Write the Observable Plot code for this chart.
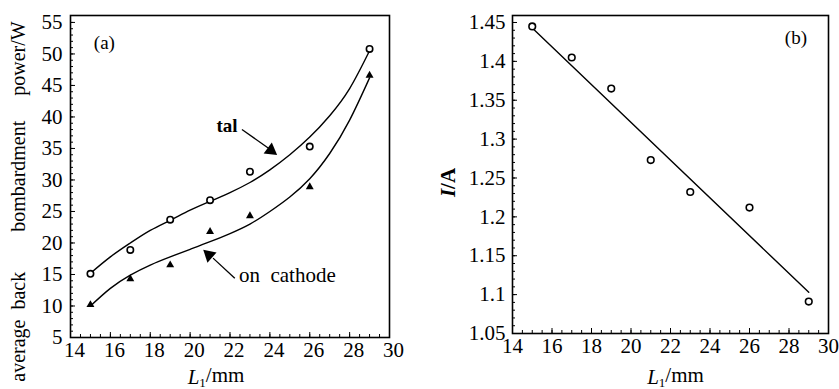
<!DOCTYPE html>
<html><head><meta charset="utf-8">
<script src="https://cdn.jsdelivr.net/npm/d3@7"></script>
<script src="https://cdn.jsdelivr.net/npm/@observablehq/plot@0.6"></script>
<style>
body{margin:0;background:#fff;}
#wrap{display:flex;width:839px;height:389px;background:#fff;}
svg text{white-space:pre;}
</style></head><body><div id="wrap"></div>
<script>
// ---- Panel (a) data ----
const lengthsA = [15, 17, 19, 21, 23, 26, 29];
const powerTotal = [15.1, 18.9, 23.7, 26.8, 31.3, 35.3, 50.8];
const powerCathode = [10.2, 14.3, 16.5, 21.8, 24.3, 28.9, 46.6];
const curveX = [15, 16, 17, 18, 19, 20, 21, 22, 23, 24, 25, 26, 27, 28, 29];
const curveTotal = [15.2, 17.8, 20.0, 22.0, 23.6, 25.2, 26.6, 28.0, 29.6, 31.6, 34.0, 36.8, 40.2, 44.5, 50.5];
const curveCathode = [10.0, 12.8, 14.9, 16.5, 17.8, 19.0, 20.2, 21.5, 23.0, 25.0, 27.3, 30.2, 34.2, 39.5, 46.2];
const ticksAX = [14, 16, 18, 20, 22, 24, 26, 28, 30];
const ticksAY = [5, 10, 15, 20, 25, 30, 35, 40, 45, 50, 55];
const labelsA = ["(a)", "tal", "on  cathode"];
// ---- Panel (b) data ----
const lengthsB = [15, 17, 19, 21, 23, 26, 29];
const currentB = [1.445, 1.405, 1.365, 1.273, 1.232, 1.212, 1.091];
const fitX = [15, 29];
const fitI = [1.443, 1.103];
const ticksBX = [14, 16, 18, 20, 22, 24, 26, 28, 30];
const ticksBY = [1.05, 1.1, 1.15, 1.2, 1.25, 1.3, 1.35, 1.4, 1.45];

const FONT = "'Liberation Serif', 'Times New Roman', serif";
const wrap = document.getElementById("wrap");

// Panel (a)
const A = {w: 420, h: 389, ml: 70, mr: 31, mt: 15, mb: 52};
const aFH = A.h - A.mt - A.mb, aFW = A.w - A.ml - A.mr;
const totalPts = lengthsA.map((x, i) => ({x, y: powerTotal[i]}));
const cathPts = lengthsA.map((x, i) => ({x, y: powerCathode[i]}));
const totCurve = curveX.map((x, i) => ({x, y: curveTotal[i]}));
const cathCurve = curveX.map((x, i) => ({x, y: curveCathode[i]}));

const plotA = Plot.plot({
  width: A.w, height: A.h,
  marginLeft: A.ml, marginRight: A.mr, marginTop: A.mt, marginBottom: A.mb,
  style: {fontFamily: FONT, fontSize: "20px", color: "black", background: "white"},
  x: {domain: [14, 30], label: null},
  y: {domain: [5, 56.1], label: null},
  marks: [
    Plot.frame({stroke: "black", strokeWidth: 1.6}),
    Plot.tickX(d3.range(14, 30.01, 0.5), {x: d => d, insetTop: aFH - 3, stroke: "black"}),
    Plot.tickX(ticksAX, {x: d => d, insetTop: aFH - 5, stroke: "black"}),
    Plot.tickY(d3.range(5, 56, 1), {y: d => d, insetRight: aFW - 3, stroke: "black"}),
    Plot.tickY(ticksAY, {y: d => d, insetRight: aFW - 5, stroke: "black"}),
    Plot.axisX(ticksAX, {tickSize: 0, tickPadding: 5, dx: 4, fontSize: 21, label: null}),
    Plot.axisY(ticksAY, {tickSize: 0, tickPadding: 8, fontSize: 21, label: null}),
    Plot.line(totCurve, {x: "x", y: "y", curve: "natural", stroke: "black", strokeWidth: 1.4}),
    Plot.line(cathCurve, {x: "x", y: "y", curve: "natural", stroke: "black", strokeWidth: 1.4}),
    Plot.dot(totalPts, {x: "x", y: "y", r: 3.2, stroke: "black", strokeWidth: 1.6, fill: "white"}),
    Plot.dot(cathPts, {x: "x", y: "y", r: 3.8, symbol: "triangle2", fill: "black"}),
    // annotations
    Plot.text([labelsA[0]], {x: 15.7, y: 51.7, fontSize: 19}),
    Plot.text([labelsA[1]], {x: 21.85, y: 38.6, fontSize: 19, fontWeight: "bold"}),
    Plot.text([labelsA[2]], {x: 22.45, y: 14.8, textAnchor: "start", fontSize: 21}),
    Plot.link([{x1: 22.6, y1: 38.0, x2: 23.95, y2: 35.0}], {x1: "x1", y1: "y1", x2: "x2", y2: "y2", stroke: "black", strokeWidth: 1.3}),
    Plot.dot([{x: 24.05, y: 34.7}], {x: "x", y: "y", symbol: "triangle2", r: 6.5, rotate: 127, fill: "black"}),
    Plot.link([{x1: 22.24, y1: 14.4, x2: 21.15, y2: 17.6}], {x1: "x1", y1: "y1", x2: "x2", y2: "y2", stroke: "black", strokeWidth: 1.3}),
    Plot.dot([{x: 20.95, y: 18.1}], {x: "x", y: "y", symbol: "triangle2", r: 6.5, rotate: -48, fill: "black"}),
    // axis titles
    Plot.text(["L1/mm"], {frameAnchor: "bottom", dx: -14, dy: 40, lineAnchor: "middle", fontSize: 21}),
    Plot.text(["average  back        bombardment     power/W"], {frameAnchor: "left", dx: -52, dy: 25, rotate: -90, textAnchor: "middle", lineAnchor: "middle", fontSize: 20})
  ]
});

// Panel (b)
const B = {w: 419, h: 389, ml: 92, mr: 11, mt: 15, mb: 56};
const bFH = B.h - B.mt - B.mb, bFW = B.w - B.ml - B.mr;
const ptsB = lengthsB.map((x, i) => ({x, y: currentB[i]}));
const fitB = fitX.map((x, i) => ({x, y: fitI[i]}));

const plotB = Plot.plot({
  width: B.w, height: B.h,
  marginLeft: B.ml, marginRight: B.mr, marginTop: B.mt, marginBottom: B.mb,
  style: {fontFamily: FONT, fontSize: "20px", color: "black", background: "white"},
  x: {domain: [14, 30], label: null},
  y: {domain: [1.05, 1.459], label: null},
  marks: [
    Plot.frame({stroke: "black", strokeWidth: 1.6}),
    Plot.tickX(d3.range(14, 30.01, 0.5), {x: d => d, insetTop: bFH - 3, stroke: "black"}),
    Plot.tickX(ticksBX, {x: d => d, insetTop: bFH - 5, stroke: "black"}),
    Plot.tickY(d3.range(1.05, 1.456, 0.01), {y: d => d, insetRight: bFW - 3, stroke: "black"}),
    Plot.tickY(ticksBY, {y: d => d, insetRight: bFW - 5, stroke: "black"}),
    Plot.axisX(ticksBX, {tickSize: 0, tickPadding: 5, fontSize: 21, label: null}),
    Plot.axisY(ticksBY, {tickSize: 0, tickPadding: 7, fontSize: 21, label: null, tickFormat: d => String(+d.toFixed(2))}),
    Plot.line(fitB, {x: "x", y: "y", stroke: "black", strokeWidth: 1.4}),
    Plot.dot(ptsB, {x: "x", y: "y", r: 3.3, stroke: "black", strokeWidth: 1.6, fill: "white"}),
    Plot.text(["(b)"], {x: 28.35, y: 1.43, fontSize: 19}),
    Plot.text(["L1/mm"], {frameAnchor: "bottom", dx: 5, dy: 44, lineAnchor: "middle", fontSize: 21}),
    Plot.text(["I/A"], {frameAnchor: "left", dx: -64, dy: 8, rotate: -90, textAnchor: "middle", lineAnchor: "middle", fontSize: 21, fontWeight: "bold"})
  ]
});

wrap.append(plotA, plotB);

// Typographic touch-ups: italic symbols and subscript
d3.selectAll("#wrap svg text").each(function() {
  const t = this.textContent;
  const sel = d3.select(this);
  if (t === "L1/mm") {
    sel.text(null);
    sel.append("tspan").attr("font-style", "italic").text("L");
    sel.append("tspan").attr("font-size", "13px").attr("dy", "0.25em").text("1");
    sel.append("tspan").attr("dy", "-0.25em").text("/mm");
  } else if (t === "I/A") {
    sel.text(null);
    sel.append("tspan").attr("font-style", "italic").text("I");
    sel.append("tspan").text("/A");
  }
});
</script>
</body></html>
